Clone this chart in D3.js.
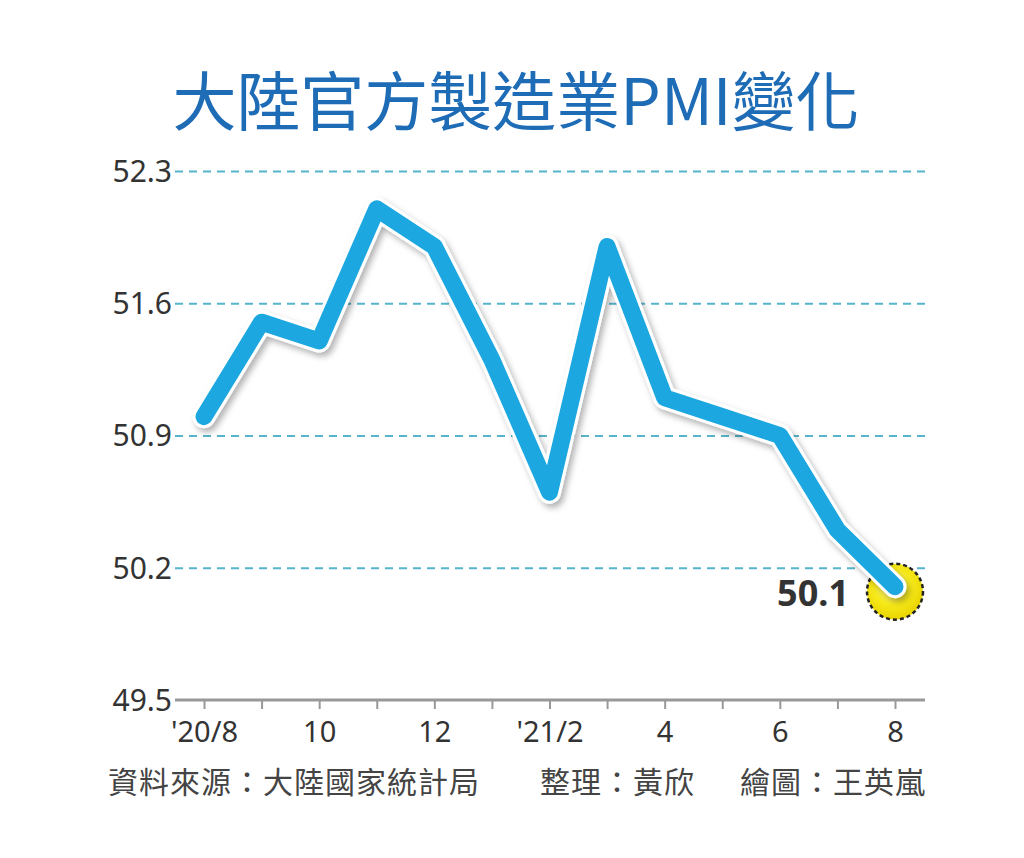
<!DOCTYPE html>
<html>
<head>
<meta charset="utf-8">
<script src="https://cdn.jsdelivr.net/npm/d3@7"></script>
<style>
  html, body { margin: 0; padding: 0; background: #fff; }
  svg { display: block; }
</style>
</head>
<body>
<div id="chart"></div>
<script>
// months Aug 2020 .. Aug 2021
const months   = ["20/8","20/9","20/10","20/11","20/12","21/1","21/2","21/3","21/4","21/5","21/6","21/7","21/8"];
const pmi      = [51.0, 51.5, 51.4, 52.1, 51.9, 51.3, 50.6, 51.9, 51.1, 51.0, 50.9, 50.4, 50.1];
const xLabels  = ["'20/8", "", "10", "", "12", "", "'21/2", "", "4", "", "6", "", "8"];
const yTicks   = [49.5, 50.2, 50.9, 51.6, 52.3];
const title    = "大陸官方製造業PMI變化";
const credits  = ["資料來源：大陸國家統計局", "整理：黃欣", "繪圖：王英嵐"];

const W = 1024, H = 858;
const FONT = "'Noto Sans', 'Noto Sans CJK TC', sans-serif";
const CJK  = "'Noto Sans CJK TC', 'Noto Sans', sans-serif";
const BLUE = "#1aa7e1";

const svg = d3.select("#chart").append("svg")
    .attr("width", W)
    .attr("height", H);

const defs = svg.append("defs");
const shadow = defs.append("filter").attr("id", "shadow")
    .attr("x", "-10%").attr("y", "-10%").attr("width", "120%").attr("height", "120%");
shadow.append("feDropShadow")
    .attr("dx", 3).attr("dy", 4).attr("stdDeviation", 3)
    .attr("flood-color", "#000").attr("flood-opacity", 0.3);

const glow = defs.append("radialGradient").attr("id", "glow")
    .attr("cx", "45%").attr("cy", "40%").attr("r", "60%");
glow.append("stop").attr("offset", "0%").attr("stop-color", "#fffbb0");
glow.append("stop").attr("offset", "55%").attr("stop-color", "#f7ea1a");
glow.append("stop").attr("offset", "100%").attr("stop-color", "#e8d400");

const x = d3.scaleLinear().domain([0, months.length - 1]).range([204, 895]);
const y = d3.scaleLinear().domain([49.5, 52.3]).range([700, 171]);

// title
svg.append("text")
    .attr("x", 516).attr("y", 97)
    .attr("text-anchor", "middle")
    .attr("dominant-baseline", "central")
    .style("font-family", CJK)
    .style("font-size", "64px")
    .style("font-weight", 400)
    .style("fill", "#1e6cb6")
    .text(title);

// gridlines + y labels
const yAxis = svg.append("g")
    .attr("transform", "translate(175,0)")
    .call(d3.axisRight(y).tickValues(yTicks).tickSize(750).tickFormat(""));
yAxis.select(".domain").remove();
yAxis.selectAll(".tick line")
    .attr("stroke", d => d === 49.5 ? "none" : "#56b5cc")
    .attr("stroke-width", 2)
    .attr("stroke-dasharray", "8,6");

svg.append("g").selectAll("text")
    .data(yTicks)
    .join("text")
    .attr("x", 172)
    .attr("y", d => y(d))
    .attr("dy", "0.36em")
    .attr("text-anchor", "end")
    .style("font-family", FONT)
    .style("font-size", "30px")
    .style("fill", "#333")
    .text(d => d.toFixed(1));

// x axis
const xAxis = svg.append("g")
    .attr("transform", "translate(0,700)")
    .call(d3.axisBottom(x).tickValues(d3.range(months.length)).tickSize(9).tickPadding(12)
        .tickFormat(i => xLabels[i]));
xAxis.select(".domain").remove();
xAxis.insert("line", ":first-child")
    .attr("x1", 175).attr("x2", 925)
    .attr("stroke", "#999").attr("stroke-width", 3);
xAxis.selectAll(".tick line").attr("stroke", "#999").attr("stroke-width", 2);
xAxis.selectAll(".tick text")
    .style("font-family", FONT)
    .style("font-size", "29px")
    .style("fill", "#333");

// last point highlight (behind the line end)
const last = pmi.length - 1;
svg.append("circle")
    .attr("cx", x(last))
    .attr("cy", y(pmi[last]) + 5)
    .attr("r", 28)
    .attr("fill", "url(#glow)")
    .attr("stroke", "#222")
    .attr("stroke-width", 2.5)
    .attr("stroke-dasharray", "4,3");

// line
const line = d3.line()
    .x((d, i) => x(i))
    .y(d => y(d));

const lineG = svg.append("g").attr("filter", "url(#shadow)");
lineG.append("path")
    .datum(pmi)
    .attr("d", line)
    .attr("fill", "none")
    .attr("stroke", "#fff")
    .attr("stroke-width", 23)
    .attr("stroke-linejoin", "round")
    .attr("stroke-linecap", "round");
lineG.append("path")
    .datum(pmi)
    .attr("d", line)
    .attr("fill", "none")
    .attr("stroke", BLUE)
    .attr("stroke-width", 17)
    .attr("stroke-linejoin", "round")
    .attr("stroke-linecap", "round");

svg.append("text")
    .attr("x", x(last) - 46)
    .attr("y", y(pmi[last]) + 6)
    .attr("dy", "0.36em")
    .attr("text-anchor", "end")
    .style("font-family", FONT)
    .style("font-size", "36px")
    .style("font-weight", 700)
    .style("fill", "#333")
    .text(pmi[last].toFixed(1));

// credits
const creditX = [108, 540, 740];
svg.append("g").selectAll("text")
    .data(credits)
    .join("text")
    .attr("x", (d, i) => creditX[i])
    .attr("y", 780)
    .attr("dominant-baseline", "central")
    .style("font-family", CJK)
    .style("font-size", "30px")
    .style("letter-spacing", "1px")
    .style("fill", "#444")
    .text(d => d);
</script>
</body>
</html>
